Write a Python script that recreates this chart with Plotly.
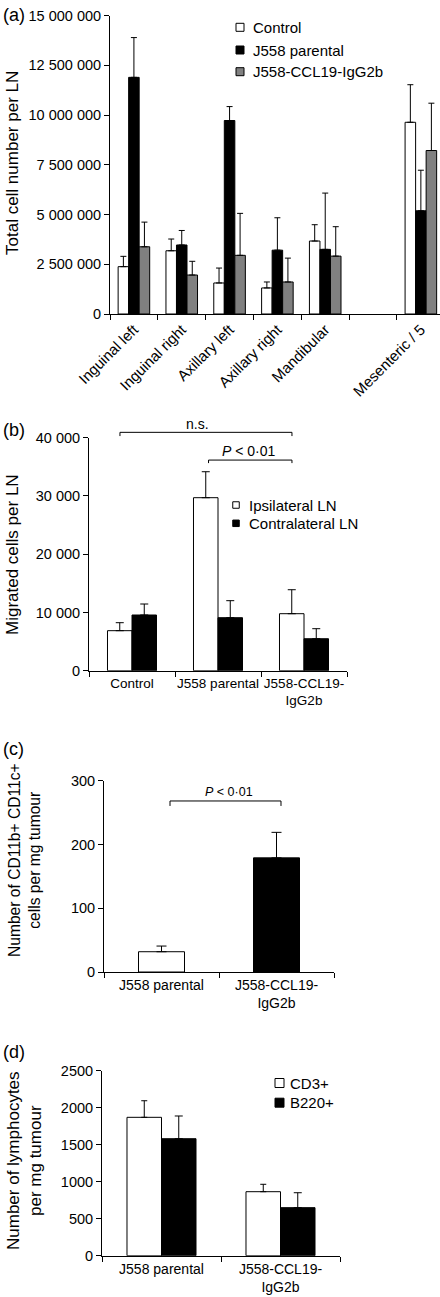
import plotly.graph_objects as go

W, H = 440, 1297
FONT = "Liberation Sans, Arial, Helvetica, sans-serif"

# ---------------- Panel (a) data ----------------
a_axis_categories = ["Inguinal left", "Inguinal right", "Axillary left", "Axillary right",
                     "Mandibular", " ", "Mesenteric / 5"]
a_categories = ["Inguinal left", "Inguinal right", "Axillary left", "Axillary right",
                "Mandibular", "Mesenteric / 5"]
a_control = [2.38e6, 3.18e6, 1.56e6, 1.31e6, 3.67e6, 9.64e6]
a_control_err = [0.52e6, 0.59e6, 0.75e6, 0.30e6, 0.82e6, 1.89e6]
a_parental = [11.9e6, 3.47e6, 9.73e6, 3.21e6, 3.25e6, 5.19e6]
a_parental_err = [2.0e6, 0.73e6, 0.70e6, 1.63e6, 2.83e6, 2.04e6]
a_ccl19 = [3.38e6, 1.96e6, 2.95e6, 1.61e6, 2.91e6, 8.22e6]
a_ccl19_err = [1.24e6, 0.69e6, 2.11e6, 1.20e6, 1.48e6, 2.38e6]
a_ytickvals = [0, 2.5e6, 5e6, 7.5e6, 10e6, 12.5e6, 15e6]
a_yticktext = ["0", "2 500 000", "5 000 000", "7 500 000", "10 000 000", "12 500 000", "15 000 000"]
a_series_names = ["Control", "J558 parental", "J558-CCL19-IgG2b"]

# ---------------- Panel (b) data ----------------
b_categories = ["Control", "J558 parental", "J558-CCL19-IgG2b"]
b_xlabels = ["Control", "J558 parental", "J558-CCL19-<br>IgG2b"]
b_ipsi = [6870, 29700, 9785]
b_ipsi_err = [1370, 4460, 4115]
b_contra = [9560, 9100, 5490]
b_contra_err = [1890, 2920, 1720]
b_ytickvals = [0, 10000, 20000, 30000, 40000]
b_yticktext = ["0", "10 000", "20 000", "30 000", "40 000"]
b_series_names = ["Ipsilateral LN", "Contralateral LN"]

# ---------------- Panel (c) data ----------------
c_categories = ["J558 parental", "J558-CCL19-IgG2b"]
c_xlabels = ["J558 parental", "J558-CCL19-<br>IgG2b"]
c_values = [31.8, 179]
c_err = [8.9, 40]
c_ytickvals = [0, 100, 200, 300]
c_yticktext = ["0", "100", "200", "300"]

# ---------------- Panel (d) data ----------------
d_categories = ["J558 parental", "J558-CCL19-IgG2b"]
d_xlabels = ["J558 parental", "J558-CCL19-<br>IgG2b"]
d_cd3 = [1870, 865]
d_cd3_err = [224, 100]
d_b220 = [1581, 649]
d_b220_err = [307, 202]
d_ytickvals = [0, 500, 1000, 1500, 2000, 2500]
d_yticktext = ["0", "500", "1000", "1500", "2000", "2500"]
d_series_names = ["CD3+", "B220+"]

WHITE, BLACK, GREY = "#ffffff", "#000000", "#808080"


def xp(px):
    return px / W


def yp(py):
    return 1 - py / H


def ydom(top_px, bottom_px):
    return [yp(bottom_px), yp(top_px)]


def bar(x, y, err, color, name, xa, ya, width, offset, cap):
    return go.Bar(
        x=x, y=y, name=name, xaxis=xa, yaxis=ya, width=width, offset=offset,
        marker=dict(color=color, line=dict(color=BLACK, width=1)),
        error_y=dict(type="data", array=err, arrayminus=[0] * len(err), symmetric=False,
                     color=BLACK, thickness=1, width=cap),
        showlegend=False,
    )


fig = go.Figure()

# Panel (a)
for vals, errs, col, nm, off in [
    (a_control, a_control_err, WHITE, a_series_names[0], -0.33),
    (a_parental, a_parental_err, BLACK, a_series_names[1], -0.11),
    (a_ccl19, a_ccl19_err, GREY, a_series_names[2], 0.11),
]:
    fig.add_trace(bar(a_categories, vals, errs, col, nm, "x", "y", 0.22, off, 3))

# Panel (b)
fig.add_trace(bar(b_categories, b_ipsi, b_ipsi_err, WHITE, b_series_names[0], "x2", "y2", 0.285, -0.285, 4))
fig.add_trace(bar(b_categories, b_contra, b_contra_err, BLACK, b_series_names[1], "x2", "y2", 0.285, 0.0, 4))

# Panel (c)
fig.add_trace(go.Bar(
    x=c_categories, y=c_values, xaxis="x3", yaxis="y3", width=0.4, offset=-0.2,
    marker=dict(color=[WHITE, BLACK], line=dict(color=BLACK, width=1)),
    error_y=dict(type="data", array=c_err, arrayminus=[0] * len(c_err), symmetric=False,
                 color=BLACK, thickness=1, width=5),
    showlegend=False,
))

# Panel (d)
fig.add_trace(bar(d_categories, d_cd3, d_cd3_err, WHITE, d_series_names[0], "x4", "y4", 0.29, -0.29, 3))
fig.add_trace(bar(d_categories, d_b220, d_b220_err, BLACK, d_series_names[1], "x4", "y4", 0.29, 0.0, 4))

tickfont = dict(family=FONT, size=14.5, color=BLACK)
xtickfont = dict(family=FONT, size=14, color=BLACK)
common_x = dict(type="category", showline=True, linecolor=BLACK, linewidth=1, ticks="outside",
                ticklen=5, tickcolor=BLACK, tickwidth=1, tickson="boundaries", showgrid=False,
                zeroline=False, tickfont=xtickfont, fixedrange=True, automargin=False)
common_y = dict(showline=True, linecolor=BLACK, linewidth=1, ticks="outside", ticklen=5,
                tickcolor=BLACK, tickwidth=1, showgrid=False, zeroline=False,
                tickfont=tickfont, tickmode="array", fixedrange=True, automargin=False)

layout = dict(
    template="none",
    width=W, height=H, autosize=False,
    margin=dict(l=0, r=0, t=0, b=0, pad=0),
    paper_bgcolor="white", plot_bgcolor="white",
    barmode="overlay", showlegend=False, hovermode=False,
    font=dict(family=FONT, color=BLACK),
    xaxis=dict(common_x, domain=[xp(110), 1.0], anchor="y", categoryorder="array",
               categoryarray=a_axis_categories, range=[-0.5, 6.4], tickangle=-45,
               tickfont=dict(family=FONT, size=15, color=BLACK)),
    yaxis=dict(common_y, domain=ydom(15.7, 314), anchor="x", range=[0, 15e6],
               tickvals=a_ytickvals, ticktext=a_yticktext),
    xaxis2=dict(common_x, domain=[xp(89), xp(347)], anchor="y2", categoryorder="array",
                categoryarray=b_categories, range=[-0.5, 2.5], tickmode="array",
                tickvals=b_categories, ticktext=b_xlabels, tickangle=0,
                tickfont=dict(family=FONT, size=13.5, color=BLACK)),
    yaxis2=dict(common_y, domain=ydom(437.7, 670.7), anchor="x2", range=[0, 40000],
                tickvals=b_ytickvals, ticktext=b_yticktext),
    xaxis3=dict(common_x, domain=[xp(104), xp(334)], anchor="y3", categoryorder="array",
                categoryarray=c_categories, range=[-0.5, 1.5], tickmode="array",
                tickvals=c_categories, ticktext=c_xlabels, tickangle=0),
    yaxis3=dict(common_y, domain=ydom(780.7, 972), anchor="x3", range=[0, 300],
                tickvals=c_ytickvals, ticktext=c_yticktext),
    xaxis4=dict(common_x, domain=[xp(102), xp(340)], anchor="y4", categoryorder="array",
                categoryarray=d_categories, range=[-0.5, 1.5], tickmode="array",
                tickvals=d_categories, ticktext=d_xlabels, tickangle=0),
    yaxis4=dict(common_y, domain=ydom(1070.7, 1255.7), anchor="x4", range=[0, 2500],
                tickvals=d_ytickvals, ticktext=d_yticktext),
)
fig.update_layout(**layout)

annotations = []
shapes = []


def text(px, py, s, size, xanchor="center", angle=0):
    annotations.append(dict(x=xp(px), y=yp(py), xref="paper", yref="paper", text=s,
                            showarrow=False, xanchor=xanchor, yanchor="middle",
                            textangle=angle, font=dict(family=FONT, size=size, color=BLACK)))


# panel letters
for lbl, py in [("(a)", 15), ("(b)", 430), ("(c)", 749), ("(d)", 1051.7)]:
    text(1, py, lbl, 18, xanchor="left")

# y-axis titles
text(12, 163, "Total cell number per LN", 17, angle=-90)
text(12, 555, "Migrated cells per LN", 17, angle=-90)
text(24, 860, "Number of CD11b+ CD11c+<br>cells per mg tumour", 15.6, angle=-90)
text(24, 1161, "Number of lymphocytes<br>per mg tumour", 17, angle=-90)


def legend(items, cx, ys, size, tx, fsize):
    for (name, col), y in zip(items, ys):
        shapes.append(dict(type="rect", xref="paper", yref="paper",
                           x0=xp(cx - size / 2), x1=xp(cx + size / 2),
                           y0=yp(y + size / 2), y1=yp(y - size / 2),
                           fillcolor=col, line=dict(color=BLACK, width=1)))
        text(tx, y, name, fsize, xanchor="left")


legend(list(zip(a_series_names, [WHITE, BLACK, GREY])), 240, [27.3, 50, 71.7], 8, 251, 15)
legend(list(zip(b_series_names, [WHITE, BLACK])), 236, [505, 523.3], 6.5, 247, 15)
legend(list(zip(d_series_names, [WHITE, BLACK])), 279.5, [1083, 1102.7], 9, 288, 15)


def bracket(xa, x0, x1, yline, ytick):
    shapes.append(dict(type="path", xref=xa, yref=xa.replace("x", "y") + " domain",
                       path=f"M {x0},{ytick} L {x0},{yline} L {x1},{yline} L {x1},{ytick}",
                       line=dict(color=BLACK, width=1)))


# (b) brackets: n.s. Control vs CCL19 ; P<0.01 parental vs CCL19
bracket("x2", -0.14, 1.86, 1.023, 1.007)
bracket("x2", 0.89, 1.86, 0.904, 0.891)
text(197, 424, "n.s.", 14)
text(249, 450.7, "<i>P</i> < 0·01", 14)

# (c) bracket
bracket("x3", 0.074, 1.039, 0.894, 0.868)
text(229, 791.7, "<i>P</i> < 0·01", 12.5)

fig.update_layout(annotations=annotations, shapes=shapes)
fig.write_html("out.html", config={"displayModeBar": False, "staticPlot": True},
               post_script="document.body.style.margin='0';document.body.style.overflow='hidden';")
